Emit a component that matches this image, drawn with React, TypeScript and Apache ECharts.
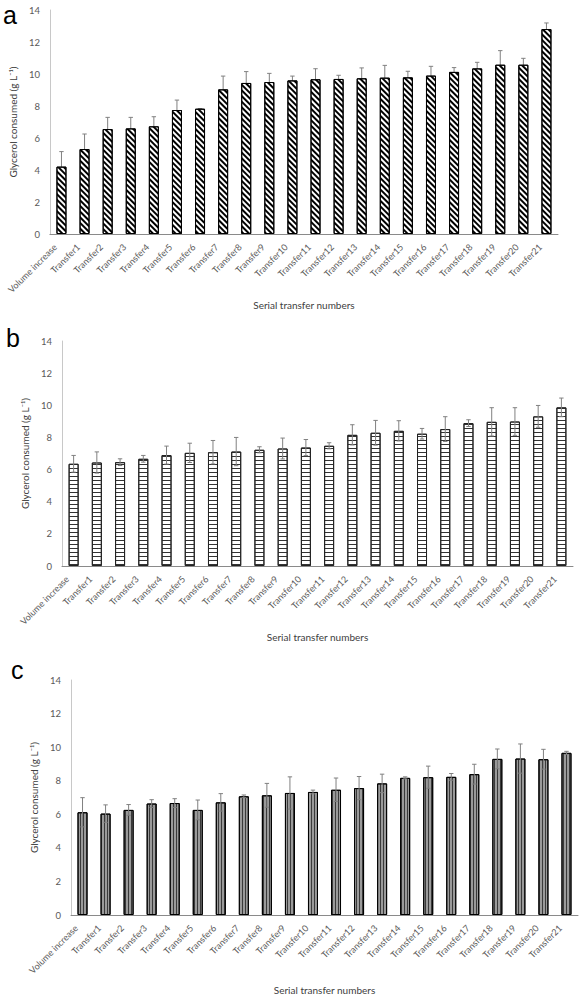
import React, { useEffect, useRef } from "react";
import * as echarts from "echarts";

const categories = [
  "Volume increase", "Transfer1", "Transfer2", "Transfer3", "Transfer4", "Transfer5",
  "Transfer6", "Transfer7", "Transfer8", "Transfer9", "Transfer10", "Transfer11",
  "Transfer12", "Transfer13", "Transfer14", "Transfer15", "Transfer16", "Transfer17",
  "Transfer18", "Transfer19", "Transfer20", "Transfer21",
];

const valuesA = [4.21, 5.31, 6.56, 6.6, 6.73, 7.75, 7.83, 9.04, 9.44, 9.5, 9.6, 9.67, 9.69, 9.73, 9.77, 9.79, 9.9, 10.13, 10.35, 10.58, 10.58, 12.81];
const errorsA = [0.94, 0.94, 0.73, 0.69, 0.6, 0.62, 0.0, 0.83, 0.71, 0.54, 0.27, 0.66, 0.23, 0.65, 0.77, 0.38, 0.58, 0.27, 0.38, 0.88, 0.4, 0.38];

const valuesB = [6.36, 6.44, 6.46, 6.67, 6.9, 7.04, 7.08, 7.12, 7.23, 7.31, 7.37, 7.48, 8.16, 8.29, 8.41, 8.23, 8.52, 8.89, 8.97, 8.99, 9.31, 9.87];
const errorsB = [0.52, 0.66, 0.21, 0.21, 0.56, 0.6, 0.73, 0.88, 0.19, 0.65, 0.5, 0.19, 0.63, 0.77, 0.63, 0.33, 0.77, 0.21, 0.88, 0.86, 0.68, 0.58];

const valuesC = [6.12, 6.04, 6.26, 6.64, 6.67, 6.26, 6.71, 7.07, 7.13, 7.27, 7.33, 7.46, 7.56, 7.84, 8.17, 8.21, 8.23, 8.39, 9.3, 9.32, 9.28, 9.66];
const errorsC = [0.87, 0.52, 0.32, 0.23, 0.26, 0.59, 0.52, 0.08, 0.71, 0.96, 0.11, 0.7, 0.69, 0.55, 0.06, 0.66, 0.2, 0.59, 0.59, 0.87, 0.59, 0.09];

const panelLetters = ["a", "b", "c"];
const yTicks = { min: 0, max: 14, interval: 2 };
const xName = "Serial transfer numbers";
const yName = "Glycerol consumed (g L\u207B\u00B9)";

const FONT = "Lato, 'Open Sans', sans-serif";

function errorData(vals: number[], errs: number[]) {
  return vals.map((v, i) => [i, v - errs[i], v + errs[i]]);
}

const renderError = (params: any, api: any) => {
  const x = api.value(0);
  const lo = api.coord([x, api.value(1)]);
  const hi = api.coord([x, api.value(2)]);
  const cap = 2.2;
  const style = { stroke: "#808080", lineWidth: 1 };
  return {
    type: "group",
    children: [
      { type: "line", shape: { x1: hi[0], y1: hi[1], x2: lo[0], y2: lo[1] }, style },
      { type: "line", shape: { x1: hi[0] - cap, y1: hi[1], x2: hi[0] + cap, y2: hi[1] }, style },
      { type: "line", shape: { x1: lo[0] - cap, y1: lo[1], x2: lo[0] + cap, y2: lo[1] }, style },
    ],
  };
};

export default function App() {
  const ref = useRef<HTMLDivElement>(null);
  useEffect(() => {
    document.body.style.margin = "0";
    const chart = echarts.init(ref.current!, null, { renderer: "svg" });
    const grids = [
      { left: 48, top: 10, width: 510, height: 224 },
      { left: 62, top: 341, width: 511, height: 225 },
      { left: 71, top: 680, width: 507, height: 236 },
    ];
    const nameGaps = [66, 66, 70];
    const xAxes = grids.map((_, i) => ({
      type: "category",
      gridIndex: i,
      data: categories,
      axisTick: { show: false },
      axisLine: { lineStyle: { color: "#8a8a8a", width: 1 } },
      axisLabel: {
        rotate: 45, interval: 0, fontSize: 9, color: "#595959", fontFamily: FONT,
        margin: 5, padding: [0, 9, 0, 0],
      },
      name: xName,
      nameLocation: "middle",
      nameGap: nameGaps[i],
      nameTextStyle: { fontSize: 10, color: "#404040", fontFamily: FONT },
    }));
    const yAxes = grids.map((_, i) => ({
      type: "value",
      gridIndex: i,
      min: yTicks.min,
      max: yTicks.max,
      interval: yTicks.interval,
      splitLine: { show: false },
      axisLine: { show: true, lineStyle: { color: "#c8c8c8", width: 1 } },
      axisTick: { show: false },
      axisLabel: { fontSize: 9.5, color: "#595959", fontFamily: FONT, margin: 10 },
      name: yName,
      nameLocation: "middle",
      nameGap: 23,
      nameTextStyle: { fontSize: 10, color: "#404040", fontFamily: FONT },
    }));
    const decals = [
      { symbol: "rect", symbolSize: 1, color: "#000", dashArrayX: [1, 0], dashArrayY: [2, 2], rotation: Math.PI / 4 },
      { symbol: "rect", symbolSize: 1, color: "#333", dashArrayX: [1, 0], dashArrayY: [1, 3], rotation: 0 },
      { symbol: "rect", symbolSize: 1, color: "#3a3a3a", dashArrayX: [1, 0], dashArrayY: [1, 1.5], rotation: Math.PI / 2 },
    ];
    const fills = ["#ffffff", "#ffffff", "#9a9a9a"];
    const borders = ["#000", "#222", "#000"];
    const vals = [valuesA, valuesB, valuesC];
    const errs = [errorsA, errorsB, errorsC];
    const series: any[] = [];
    vals.forEach((v, i) => {
      series.push({
        type: "bar",
        xAxisIndex: i,
        yAxisIndex: i,
        data: v,
        barWidth: 10,
        z: 2,
        itemStyle: { color: fills[i], borderColor: borders[i], borderWidth: 1, decal: decals[i] },
      });
      series.push({
        type: "custom",
        xAxisIndex: i,
        yAxisIndex: i,
        data: errorData(v, errs[i]),
        encode: { x: 0, y: [1, 2] },
        renderItem: renderError,
        z: i === 0 ? 1 : 3,
      });
    });
    const letterPos = [
      { x: 3, y: 2 },
      { x: 6, y: 325 },
      { x: 11, y: 657 },
    ];
    chart.setOption({
      animation: false,
      grid: grids,
      xAxis: xAxes,
      yAxis: yAxes,
      series,
      graphic: panelLetters.map((t, i) => ({
        type: "text",
        left: letterPos[i].x,
        top: letterPos[i].y,
        style: { text: t, font: "25px 'Liberation Sans', Arial, sans-serif", fill: "#000" },
      })),
    });
    return () => chart.dispose();
  }, []);
  return <div ref={ref} style={{ width: 580, height: 996 }} />;
}
